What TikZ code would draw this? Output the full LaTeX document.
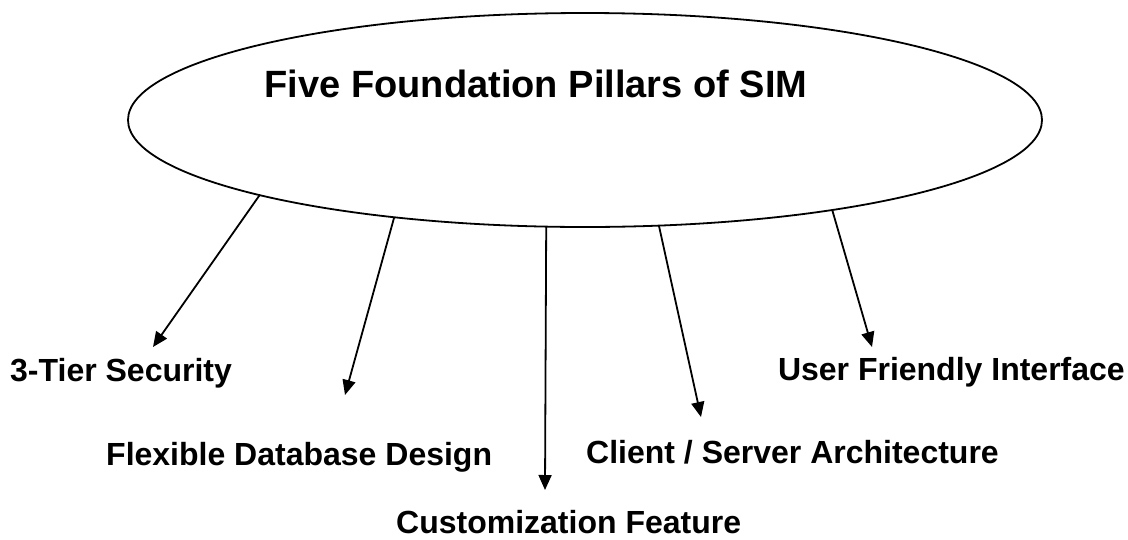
\documentclass[tikz,border=0pt]{standalone}
\usepackage{fontspec}
\setmainfont{Liberation Sans}
\usetikzlibrary{shapes.geometric,arrows.meta}
\tikzset{
  pillar/.style={font=\bfseries\fontsize{32}{38}\selectfont, inner sep=0pt},
  pillar arrow/.style={line width=1.8pt, -{Triangle[length=15pt,width=13pt]}}
}
\begin{document}
\begin{tikzpicture}[x=1pt,y=-1pt]
		\useasboundingbox (0,0) rectangle (1128,539);
		\node[draw, line width=1.8pt, ellipse, inner sep=0pt, outer sep=0pt, minimum width=914pt, minimum height=214pt] (sim) at (585,120) {};
		\node[pillar, font=\bfseries\fontsize{38}{44}\selectfont, anchor=base] (title) at (536,97) {Five Foundation Pillars of SIM};
		% the five pillars
		\node[pillar, anchor=base west] (security) at (10,381) {3-Tier Security};
		\node[pillar, anchor=base west] (database) at (106,465) {Flexible Database Design};
		\node[pillar, anchor=base west] (custom) at (396,533) {Customization Feature};
		\node[pillar, anchor=base west] (client) at (586,463) {Client / Server Architecture};
		\node[pillar, anchor=base east] (user) at (1125,380) {User Friendly Interface};
		\coordinate (securityTip) at (153,347);
		\coordinate (databaseTip) at (345,395);
		\coordinate (customTip) at (545,490);
		\coordinate (clientTip) at (701,417);
		\coordinate (userTip) at (872,347);
		\draw[pillar arrow] (sim.-167.7) -- (securityTip);
		\draw[pillar arrow] (sim.-153) -- (databaseTip);
		\draw[pillar arrow] (sim.-110.6) -- (customTip);
		\draw[pillar arrow] (sim.-55.7) -- (clientTip);
		\draw[pillar arrow] (sim.-20.9) -- (userTip);
\end{tikzpicture}
\end{document}
